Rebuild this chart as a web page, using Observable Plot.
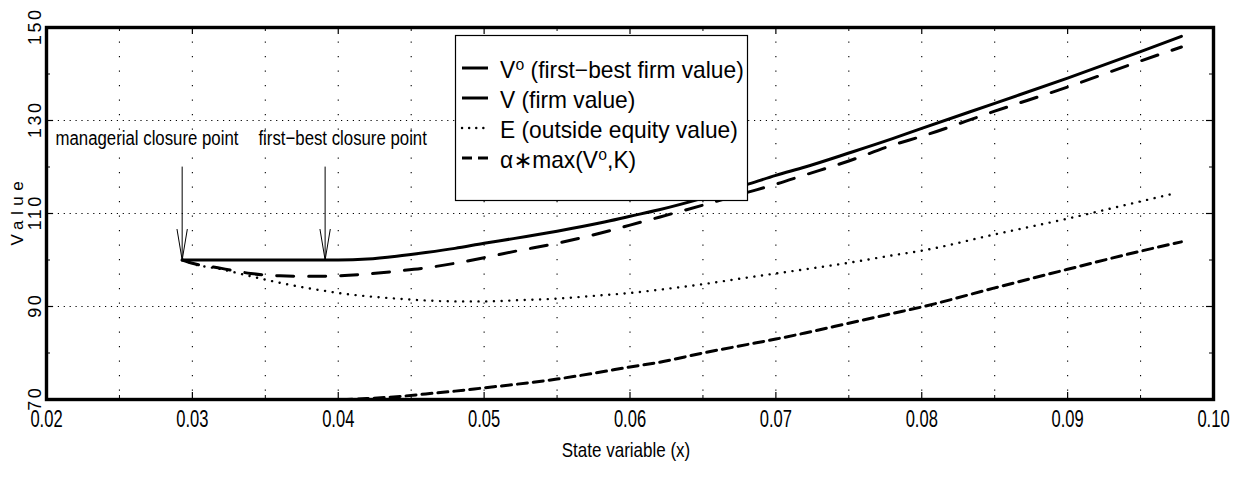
<!DOCTYPE html>
<html><head><meta charset="utf-8">
<script src="https://cdn.jsdelivr.net/npm/d3@7"></script>
<script src="https://cdn.jsdelivr.net/npm/@observablehq/plot@0.6"></script>
<style>
body{margin:0;background:#fff;}
#chart{width:1242px;height:478px;}
</style>
</head><body><div id="chart"></div>
<script>
// ---- data ----
const xs      = [0.0293,0.030,0.032,0.034,0.036,0.038,0.039,0.040,0.042,0.044,0.046,0.048,0.050,0.052,0.055,0.058,0.060,0.062,0.065,0.068,0.070,0.072,0.075,0.078,0.080,0.085,0.090,0.095,0.0978];
const v0      = [100,100,100,100,100,100,100,100,100.2,100.8,101.6,102.5,103.6,104.6,106.2,108.0,109.4,110.8,113.3,116.2,118.2,120.0,123.0,126.1,128.3,133.7,139.1,144.8,148.1];
const vFirm   = [100,99.3,98.2,97.1,96.6,96.5,96.5,96.6,97.0,97.6,98.3,99.3,100.5,101.8,103.6,105.8,107.5,109.2,111.8,114.5,116.3,118.3,121.3,124.7,126.6,132.0,137.2,142.8,145.8];
const eqXs    = [0.0293,0.030,0.032,0.034,0.036,0.038,0.039,0.040,0.042,0.044,0.046,0.048,0.050,0.052,0.055,0.058,0.060,0.062,0.065,0.068,0.070,0.072,0.075,0.078,0.080,0.085,0.090,0.095,0.0973];
const equity  = [100,99.2,98.0,96.5,95.1,93.9,93.4,92.9,92.2,91.7,91.3,91.1,91.1,91.3,91.7,92.4,92.9,93.6,94.8,96.2,97.1,98.0,99.4,101.0,102.0,105.5,108.9,112.6,114.3];
const alphaMax= [70,70,70,70,70,70,70,70,70.2,70.6,71.2,71.8,72.5,73.2,74.4,75.9,77.0,78.0,80.0,81.8,83.0,84.3,86.4,88.5,89.9,94.0,98.0,101.9,103.9];

const xTicks      = [0.02,0.03,0.04,0.05,0.06,0.07,0.08,0.09,0.10];
const xMinorTicks = [0.025,0.035,0.045,0.055,0.065,0.075,0.085,0.095];
const yTicks      = [70,90,110,130,150];
const yMinorTicks = [80,100,120,140];
const yGrid       = [90,110,130];

const legendLabels = ["V\u2070 (first\u2212best firm value)","V (firm value)","E (outside equity value)","\u03b1\u2217max(V\u2070,K)"];

const closureX      = [0.0293, 0.0391];
const closureLevel  = [100, 100];
const closureLabels = ["managerial closure point", "first\u2212best closure point"];
const closureLabelX = [0.02062, 0.03453];
const labelLevel    = 126.1;
const arrowTop      = 120;
const xTitle = "State variable (x)";
const yTitle = "Value";

// ---- build rows ----
const rows = (X, Y) => X.map((x, i) => ({x, y: Y[i]}));
const v0Rows = rows(xs, v0), vRows = rows(xs, vFirm), eRows = rows(eqXs, equity), aRows = rows(xs, alphaMax);
const annot = closureX.map((x, i) => ({x, y: closureLevel[i], label: closureLabels[i], lx: closureLabelX[i]}));
const fmtX = d3.format(".2f");

const FONT = '"Liberation Sans","Arimo","DejaVu Sans",sans-serif';

const W = 1242, H = 478, ML = 46, MR = 29, MT = 27, MB = 79;
const frameW = W - ML - MR, frameH = H - MT - MB;

const plot = Plot.plot({
  width: W, height: H,
  marginLeft: ML, marginRight: MR, marginTop: MT, marginBottom: MB,
  style: {fontFamily: FONT, background: "white", color: "black", overflow: "visible"},
  x: {domain: [0.02, 0.10], axis: null},
  y: {domain: [70, 150], axis: null},
  marks: [
    // grids
    Plot.ruleX(xMinorTicks.concat(xTicks.slice(1, -1)), {stroke: "black", strokeWidth: 1.1, strokeDasharray: "1.2,13.3"}),
    Plot.ruleY(yGrid, {stroke: "black", strokeWidth: 1.1, strokeDasharray: "1.2,4.7"}),
    // ticks (inward)
    Plot.ruleX(xTicks, {stroke: "black", strokeWidth: 1.2, insetTop: frameH - 7}),
    Plot.ruleX(xTicks, {stroke: "black", strokeWidth: 1.2, insetBottom: frameH - 7}),
    Plot.ruleX(xMinorTicks, {stroke: "black", strokeWidth: 1, insetTop: frameH - 4}),
    Plot.ruleX(xMinorTicks, {stroke: "black", strokeWidth: 1, insetBottom: frameH - 4}),
    Plot.ruleY(yTicks, {stroke: "black", strokeWidth: 1.2, insetRight: frameW - 7}),
    Plot.ruleY(yTicks, {stroke: "black", strokeWidth: 1.2, insetLeft: frameW - 7}),
    Plot.ruleY(yMinorTicks, {stroke: "black", strokeWidth: 1, insetRight: frameW - 4}),
    Plot.ruleY(yMinorTicks, {stroke: "black", strokeWidth: 1, insetLeft: frameW - 4}),
    // series
    Plot.line(aRows, {x: "x", y: "y", stroke: "black", strokeWidth: 3, strokeDasharray: "10,6", curve: "monotone-x"}),
    Plot.line(eRows, {x: "x", y: "y", stroke: "black", strokeWidth: 2.4, strokeDasharray: "0.1,7.6", strokeLinecap: "round", curve: "monotone-x"}),
    Plot.line(vRows, {x: "x", y: "y", stroke: "black", strokeWidth: 3, strokeDasharray: "17,15", curve: "monotone-x"}),
    Plot.line(v0Rows, {x: "x", y: "y", stroke: "black", strokeWidth: 3, curve: "monotone-x"}),
    // annotations
    Plot.arrow(annot, {x1: "x", x2: "x", y1: () => arrowTop, y2: "y", stroke: "black", strokeWidth: 1, headLength: 60, headAngle: 19}),
    Plot.text(annot, {x: "lx", y: () => labelLevel, text: "label", textAnchor: "start", fontSize: 21, fill: "black"}),
    // frame
    Plot.frame({stroke: "black", strokeWidth: 3.4}),
    // axis labels
    Plot.text(xTicks, {x: d => d, frameAnchor: "bottom", dy: 27, text: d => fmtX(d), fontSize: 23, fill: "black"}),
    Plot.text([xTitle], {frameAnchor: "bottom", dy: 57, dx: -4, text: d => d, fontSize: 21, fill: "black"}),
    Plot.text(yTicks, {y: d => d, frameAnchor: "left", dx: -11, rotate: -90, text: d => String(d), fontSize: 18, fill: "black"}),
    Plot.text([yTitle], {frameAnchor: "left", dx: -29, rotate: -90, text: d => d, fontSize: 17, fill: "black"})
  ]
});

const svg = d3.select(plot);
// narrow the horizontally-set labels (the reference uses a tall, condensed stroke font)
function condense(node, s) {
  const x = +node.getAttribute("x") || 0;
  const t = node.getAttribute("transform") || "";
  node.setAttribute("transform", `${t} translate(${x},0) scale(${s},1) translate(${-x},0)`);
}
const xTickStrings = xTicks.map(fmtX);
const yLabelStrings = yTicks.map(String);
svg.selectAll("text").each(function () {
  const t = this.textContent;
  if (xTickStrings.includes(t)) condense(this, 0.72);
  else if (t === xTitle) condense(this, 0.81);
  else if (closureLabels.includes(t)) condense(this, 0.8);
});

// legend (inside the plot, upper middle)
const lg = svg.append("g").attr("font-family", FONT).attr("font-size", 23).attr("text-anchor", "start");
lg.append("rect").attr("x", 455.5).attr("y", 35.5).attr("width", 292).attr("height", 165)
  .attr("fill", "white").attr("stroke", "black").attr("stroke-width", 1.2);
const legendDash = [null, null, "0.1,7", "10,6"];
const legendW = [3, 3, 2.4, 3];
legendLabels.forEach((lab, i) => {
  const y = 70 + i * 30;
  lg.append("line").attr("x1", 462).attr("x2", 488).attr("y1", y - 2).attr("y2", y - 2)
    .attr("stroke", "black").attr("stroke-width", legendW[i])
    .attr("stroke-dasharray", legendDash[i]).attr("stroke-linecap", i === 2 ? "round" : "butt");
  const tx = lg.append("text").attr("x", 500).attr("y", y).attr("dy", "0.35em").attr("fill", "black").text(lab);
  condense(tx.node(), 0.99);
});

document.getElementById("chart").appendChild(plot);

// widely spaced vertical labels, re-centred on their anchor after spacing
svg.selectAll("text").each(function () {
  const t = this.textContent;
  let ls = null;
  if (yLabelStrings.includes(t)) ls = 2.5;
  else if (t === yTitle) ls = 5.5;
  if (ls === null) return;
  this.style.letterSpacing = ls + "px";
  const b = this.getBBox();
  const off = b.x + (b.width - ls) / 2;
  this.setAttribute("transform", (this.getAttribute("transform") || "") + ` translate(${-off},0)`);
});
</script>
</body></html>
